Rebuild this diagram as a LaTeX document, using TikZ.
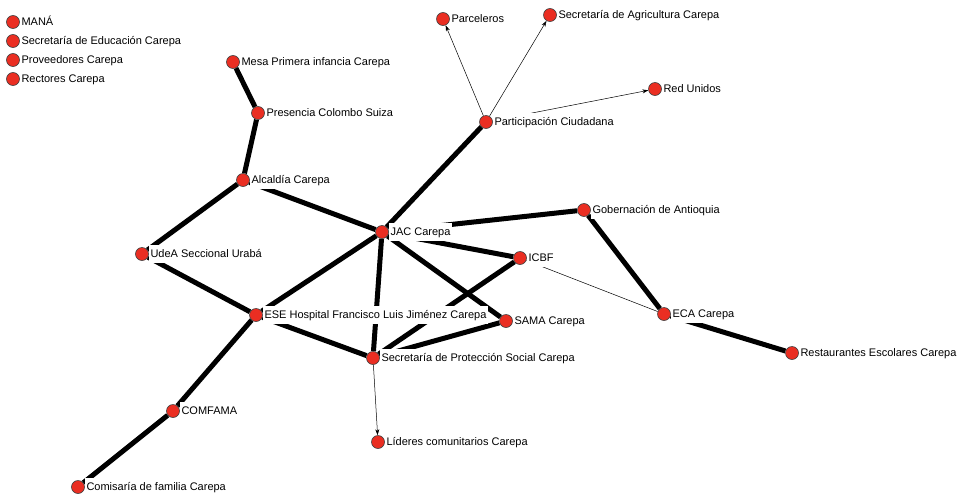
\documentclass[tikz,border=0pt]{standalone}
\usepackage{fontspec}
\setmainfont{Liberation Sans}
\usetikzlibrary{positioning,backgrounds,arrows.meta}

\definecolor{actorred}{RGB}{234,46,34}

\begin{document}
\begin{tikzpicture}[x=1pt,y=-1pt,node distance=19pt,on grid,
    actor/.style={circle,fill=actorred,draw=black!75,line width=0.6pt,minimum size=13pt,inner sep=0pt},
    lbl/.style={fill=white,inner xsep=1.5pt,inner ysep=3pt,text height=9pt,text depth=3pt,font=\fontsize{11}{13}\selectfont},
    tie/.style={line width=5pt},
    link/.style={->,>={Stealth[length=6pt,width=4pt]},line width=0.5pt}]

    \useasboundingbox (0,0) rectangle (966,498);

    % isolated actors
    \node[actor, label={[lbl]right:MANÁ}] (mana) at (13,22) {};
    \node[actor, label={[lbl]right:Secretaría de Educación Carepa}] (sec_edu) [below=of mana] {};
    \node[actor, label={[lbl]right:Proveedores Carepa}] (proveedores) [below=of sec_edu] {};
    \node[actor, label={[lbl]right:Rectores Carepa}] (rectores) [below=of proveedores] {};

    \node[actor, label={[lbl]right:Mesa Primera infancia Carepa}] (mesa) at (233,62) {};
    \node[actor, label={[lbl]right:Presencia Colombo Suiza}] (colombo) at (258,113) {};
    \node[actor, label={[lbl]right:Alcaldía Carepa}] (alcaldia) at (243,180) {};
    \node[actor, label={[lbl]right:UdeA Seccional Urabá}] (udea) at (142,254) {};
    \node[actor, label={[lbl]right:ESE Hospital Francisco Luis Jiménez Carepa}] (ese) at (256,315) {};
    \node[actor, label={[lbl]right:COMFAMA}] (comfama) at (173,411) {};
    \node[actor, label={[lbl]right:Comisaría de familia Carepa}] (comisaria) at (78,487) {};
    \node[actor, label={[lbl]right:JAC Carepa}] (jac) at (382,232) {};
    \node[actor, label={[lbl]right:Participación Ciudadana}] (participacion) at (486,122) {};
    \node[actor, label={[lbl]right:Parceleros}] (parceleros) at (443,19) {};
    \node[actor, label={[lbl]right:Secretaría de Agricultura Carepa}] (sec_agri) at (550,15) {};
    \node[actor, label={[lbl]right:Red Unidos}] (red) at (655,89) {};
    \node[actor, label={[lbl]right:Gobernación de Antioquia}] (gobernacion) at (584,210) {};
    \node[actor, label={[lbl]right:ICBF}] (icbf) at (520,258) {};
    \node[actor, label={[lbl]right:SAMA Carepa}] (sama) at (506,321) {};
    \node[actor, label={[lbl]right:Secretaría de Protección Social Carepa}] (sec_prot) at (373,358) {};
    \node[actor, label={[lbl]right:Líderes comunitarios Carepa}] (lideres) at (378,442) {};
    \node[actor, label={[lbl]right:ECA Carepa}] (eca) at (664,314) {};
    \node[actor, label={[lbl]right:Restaurantes Escolares Carepa}] (restaurantes) at (792,353) {};

    \begin{pgfonlayer}{background}
    \path[tie]
    (mesa) edge (colombo)
    (colombo) edge (alcaldia)
    (alcaldia) edge (udea)
    (alcaldia) edge (jac)
    (udea) edge (ese)
    (ese) edge (jac)
    (ese) edge (sec_prot)
    (ese) edge (comfama)
    (comfama) edge (comisaria)

    (jac) edge (participacion)
    (jac) edge (gobernacion)
    (jac) edge (icbf)
    (jac) edge (sama)
    (jac) edge (sec_prot)
    (icbf) edge (sec_prot)
    (sama) edge (sec_prot)
    (gobernacion) edge (eca)
    (eca) edge (restaurantes);

    \path[link]
    (participacion) edge (parceleros)
    (participacion) edge (sec_agri)
    (participacion) edge (red)
    (sec_prot) edge (lideres)
    (eca) edge (icbf);
    \end{pgfonlayer}
  \end{tikzpicture}
\end{document}
